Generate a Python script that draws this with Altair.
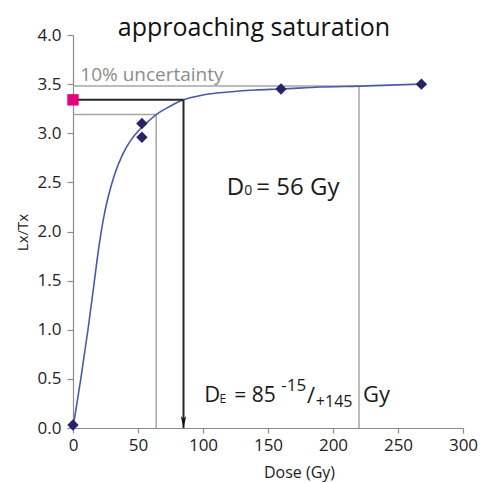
import altair as alt
import pandas as pd

# measured data points (Dose in Gy, Lx/Tx)
dose_pts = [0, 53, 53, 160, 268]
lxtx_pts = [0.03, 3.10, 2.96, 3.45, 3.50]

# fitted curve
curve_dose = [0, 6, 11.5, 16, 20, 24, 28, 32, 38, 44, 50, 57, 64, 74, 85, 100, 120, 140, 160, 190, 220, 268]
curve_lxtx = [0.0, 0.5, 1.0, 1.45, 1.85, 2.17, 2.4, 2.58, 2.78, 2.92, 3.02, 3.11, 3.19, 3.27, 3.34, 3.39, 3.42, 3.44, 3.45, 3.47, 3.48, 3.50]

# guide lines
gray_x = [0, 220, 0, 64]
gray_x2 = [220, 220, 64, 64]
gray_y = [3.48, 3.48, 3.19, 3.19]
gray_y2 = [3.48, 0.0, 3.19, 0.0]

black_x = [0, 85]
black_x2 = [85, 85]
black_y = [3.34, 3.34]
black_y2 = [3.34, 0.0]

natural_lxtx = 3.34
de_value = 85

# annotation texts
ann_text = ["10% uncertainty", "D", "0", "= 56 Gy", "D", "E", "= 85", "-15", "/", "+145", "Gy"]
ann_x = [5.6, 118.3, 131.8, 141.0, 100.9, 112.6, 124.0, 160.2, 180.0, 186.8, 223.0]
ann_y = [3.53, 2.374, 2.374, 2.374, 0.265, 0.258, 0.265, 0.378, 0.255, 0.214, 0.265]
ann_size = [19, 24, 14, 24, 22, 12, 21, 17, 22, 16, 22]
ann_color = ["#8c8c8c", "#1a1a1a", "#1a1a1a", "#1a1a1a", "#1a1a1a", "#1a1a1a", "#1a1a1a",
             "#1a1a1a", "#1a1a1a", "#1a1a1a", "#1a1a1a"]

FONT = "Open Sans"

pts = pd.DataFrame({"dose": dose_pts, "lxtx": lxtx_pts})
curve = pd.DataFrame({"dose": curve_dose, "lxtx": curve_lxtx, "o": range(len(curve_dose))})
gray = pd.DataFrame({"x": gray_x, "x2": gray_x2, "y": gray_y, "y2": gray_y2})
black = pd.DataFrame({"x": black_x, "x2": black_x2, "y": black_y, "y2": black_y2})
pink = pd.DataFrame({"dose": [0], "lxtx": [natural_lxtx]})
arrow = pd.DataFrame({"dose": [de_value], "lxtx": [0.0]})
ann = pd.DataFrame({"x": ann_x, "y": ann_y, "text": ann_text, "size": ann_size, "color": ann_color})

xscale = alt.Scale(domain=[0, 300], nice=False, zero=True)
yscale = alt.Scale(domain=[0, 4], nice=False)

xaxis = alt.Axis(values=[0, 50, 100, 150, 200, 250, 300], title="Dose (Gy)",
                 titleX=226, titleY=49, titleBaseline="alphabetic", titleFontSize=16,
                 titleAlign="center", labelPadding=4, tickSize=5, labelFlush=False)
yaxis = alt.Axis(values=[0, 0.5, 1, 1.5, 2, 2.5, 3, 3.5, 4], format=".1f", title="Lx/Tx",
                 titleX=-46, titleY=197, titleAngle=270, titleAlign="center",
                 titleBaseline="alphabetic", labelPadding=6, tickSize=6, labelFlush=False)

gray_rules = alt.Chart(gray).mark_rule(color="#a6a6a6", strokeWidth=1.5).encode(
    x=alt.X("x:Q", scale=xscale, axis=xaxis),
    x2="x2:Q",
    y=alt.Y("y:Q", scale=yscale, axis=yaxis),
    y2="y2:Q",
)

curve_line = alt.Chart(curve).mark_line(color="#4a5aa8", strokeWidth=1.6, interpolate="monotone").encode(
    x=alt.X("dose:Q", scale=xscale), y=alt.Y("lxtx:Q", scale=yscale), order="o:Q"
)

black_rules = alt.Chart(black).mark_rule(color="#262626", strokeWidth=2).encode(
    x=alt.X("x:Q", scale=xscale), x2="x2:Q", y=alt.Y("y:Q", scale=yscale), y2="y2:Q"
)

arrow_head = alt.Chart(arrow).mark_point(
    shape="M 0 0 L -0.45 -2 L 0 -1.5 L 0.45 -2 Z", size=144, filled=True, color="#111111", opacity=1
).encode(x=alt.X("dose:Q", scale=xscale), y=alt.Y("lxtx:Q", scale=yscale))

points = alt.Chart(pts).mark_point(shape="diamond", size=130, filled=True, color="#262466", opacity=1).encode(
    x=alt.X("dose:Q", scale=xscale), y=alt.Y("lxtx:Q", scale=yscale)
)

pink_pt = alt.Chart(pink).mark_point(shape="square", size=130, filled=True, color="#e6007e", opacity=1).encode(
    x=alt.X("dose:Q", scale=xscale), y=alt.Y("lxtx:Q", scale=yscale)
)

texts = alt.Chart(ann).mark_text(align="left", baseline="alphabetic", font=FONT).encode(
    x=alt.X("x:Q", scale=xscale),
    y=alt.Y("y:Q", scale=yscale),
    text="text:N",
    size=alt.Size("size:Q", scale=None, legend=None),
    color=alt.Color("color:N", scale=None, legend=None),
)

chart = alt.layer(gray_rules, curve_line, black_rules, arrow_head, points, pink_pt, texts).properties(
    width=390,
    height=393,
    title=alt.TitleParams("approaching saturation", font=FONT, fontSize=25, fontWeight="normal",
                          color="#111111", anchor="middle", dx=-14, offset=-35,
                          baseline="alphabetic", frame="group"),
    autosize=alt.AutoSizeParams(type="none"),
    padding={"left": 65, "top": 27, "right": 15, "bottom": 55},
).configure_view(stroke=None).configure_axis(
    grid=False, domainColor="#8c8c8c", tickColor="#8c8c8c", domainWidth=1.2, tickWidth=1.2,
    labelColor="#222222", labelFont=FONT, labelFontSize=17, titleFont=FONT, titleFontSize=15,
    titleFontWeight="normal", titleColor="#222222",
)

chart.save("out.html", embed_options={"renderer": "svg", "actions": False})
